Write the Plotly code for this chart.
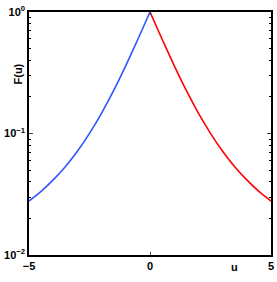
import plotly.graph_objects as go

u_right = [0, 0.5, 1, 1.5, 2, 2.5, 3, 3.5, 4, 4.5, 5]
f_right = [1.000, 0.597, 0.362, 0.226, 0.147, 0.1002, 0.0714, 0.0533, 0.0415, 0.0334, 0.0278]
u_left = [-v for v in u_right]
f_left = list(f_right)

x_ticks = [-5, 0, 5]
x_ticktext = ["<b>−5</b>", "<b>0</b>", "<b>5</b>"]
y_ticks = [0.01, 0.1, 1]
y_ticktext = ["<b>10<sup>−2</sup></b>", "<b>10<sup>−1</sup></b>", "<b>10<sup>0</sup></b>"]
y_minor = [k * 10 ** e for e in (-2, -1) for k in range(2, 10)]

fig = go.Figure()
fig.add_trace(go.Scatter(x=u_left, y=f_left, mode="lines",
                         line=dict(color="#3355ff", width=1.6, shape="spline", smoothing=0.5)))
fig.add_trace(go.Scatter(x=u_right, y=f_right, mode="lines",
                         line=dict(color="#ff0000", width=1.6, shape="spline", smoothing=0.5)))

fig.update_layout(
    width=277, height=282,
    margin=dict(l=29, r=6, t=12, b=27, autoexpand=False),
    paper_bgcolor="white", plot_bgcolor="white",
    showlegend=False,
    font=dict(family="Liberation Sans, Arial, sans-serif", size=10, color="black"),
    xaxis=dict(range=[-5, 5], tickvals=x_ticks, ticktext=x_ticktext, ticks="inside", ticklen=3,
               showline=True, linecolor="black", linewidth=1.5, mirror="ticks", automargin=False,
               showgrid=False, zeroline=False, tickfont=dict(size=11)),
    yaxis=dict(type="log", range=[-2, 0], tickvals=y_ticks, ticktext=y_ticktext, ticks="inside", ticklen=4,
               showline=True, linecolor="black", linewidth=1.5, mirror="ticks", automargin=False,
               showgrid=False, zeroline=False, tickfont=dict(size=11),
               minor=dict(tickvals=y_minor, ticks="inside", ticklen=2, showgrid=False, tickcolor="black")),
    annotations=[
        dict(text="<b>u</b>", x=0, y=0, xref="paper", yref="paper", showarrow=False,
             font=dict(size=11)),
        dict(text="<b>F(u)</b>", x=0, y=0, xref="paper", yref="paper", showarrow=False,
             textangle=-90, font=dict(size=11)),
    ],
)
# place annotations at pixel positions, converted to paper coordinates
pw, ph = 277 - 29 - 6, 282 - 12 - 27
fig.layout.annotations[0].update(x=(240 - 29) / pw, y=(255 - 275) / ph)
fig.layout.annotations[1].update(x=(10 - 29) / pw, y=(255 - 62) / ph)

fig.write_html("out.html", config={"displayModeBar": False},
               post_script="document.body.style.margin='0';document.body.style.overflow='hidden';")
